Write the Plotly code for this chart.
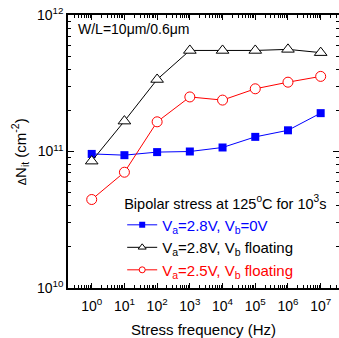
import plotly.graph_objects as go

freq = [1e0, 1e1, 1e2, 1e3, 1e4, 1e5, 1e6, 1e7]
blue_vals = [9.6e10, 9.4e10, 9.9e10, 1.0e11, 1.07e11, 1.28e11, 1.43e11, 1.91e11]
black_vals = [8.5e10, 1.67e11, 3.37e11, 5.5e11, 5.5e11, 5.5e11, 5.6e11, 5.3e11]
red_vals = [4.45e10, 7.05e10, 1.65e11, 2.51e11, 2.38e11, 2.88e11, 3.22e11, 3.55e11]

names = [
    "<span style='color:#0000ff'>V<sub>a</sub>=2.8V, V<sub>b</sub>=0V</span>",
    "<span style='color:#000000'>V<sub>a</sub>=2.8V, V<sub>b</sub> floating</span>",
    "<span style='color:#ff0000'>V<sub>a</sub>=2.5V, V<sub>b</sub> floating</span>",
]
x_tickvals = [1e0, 1e1, 1e2, 1e3, 1e4, 1e5, 1e6, 1e7]
x_ticktext = ["10<sup>%d</sup>" % i for i in range(8)]
y_tickvals = [1e10, 1e11, 1e12]
y_ticktext = ["10<sup>10</sup>", "10<sup>11</sup>", "10<sup>12</sup>"]

font = "Liberation Sans, Arial, sans-serif"

styles = [
    dict(line=dict(color="#0000ff", width=1),
         marker=dict(symbol="square", size=8, color="#0000ff")),
    dict(line=dict(color="#000000", width=1),
         marker=dict(symbol="triangle-up", size=11, color="white",
                     line=dict(color="#000000", width=1))),
    dict(line=dict(color="#ff0000", width=1),
         marker=dict(symbol="circle", size=10, color="white",
                     line=dict(color="#ff0000", width=1))),
]
legend_styles = [
    dict(line=dict(color="#0000ff", width=1),
         marker=dict(symbol="square", size=6, color="#0000ff")),
    dict(line=dict(color="#000000", width=1),
         marker=dict(symbol="triangle-up", size=7, color="white",
                     line=dict(color="#000000", width=1))),
    dict(line=dict(color="#ff0000", width=1),
         marker=dict(symbol="circle", size=6, color="white",
                     line=dict(color="#ff0000", width=1))),
]

fig = go.Figure()
for vals, st in zip([blue_vals, black_vals, red_vals], styles):
    fig.add_trace(go.Scatter(x=freq, y=vals, mode="lines+markers", showlegend=False, **st))
for nm, st in zip(names, legend_styles):
    fig.add_trace(go.Scatter(x=[None], y=[None], mode="lines+markers", name=nm, **st))

fig.update_layout(
    width=339, height=338,
    margin=dict(l=68, r=0, t=15, b=50, autoexpand=False),
    plot_bgcolor="white", paper_bgcolor="white",
    font=dict(family=font, size=14, color="black"),
    legend=dict(
        x=0.2, y=0.36, xanchor="left", yanchor="top",
        bgcolor="rgba(0,0,0,0)",
        title=dict(text="Bipolar stress at 125<sup>o</sup>C for 10<sup>3</sup>s",
                   font=dict(size=14.5)),
        font=dict(size=15),
        tracegroupgap=0,
        itemwidth=30,
    ),
    xaxis=dict(
        type="log", range=[-0.725, 7.56], automargin=False,
        tickvals=x_tickvals, ticktext=x_ticktext,
        ticks="inside", ticklen=5, tickcolor="black",
        ticklabelstandoff=4,
        minor=dict(ticks="inside", ticklen=3, tickcolor="black", dtick="D1"),
        showline=True, linecolor="black", linewidth=1.5, mirror="ticks",
        showgrid=False, zeroline=False,
        tickfont=dict(size=14),
        title=dict(text="Stress frequency (Hz)", font=dict(size=15), standoff=13),
    ),
    yaxis=dict(
        type="log", range=[10, 12], automargin=False,
        tickvals=y_tickvals, ticktext=y_ticktext,
        ticks="inside", ticklen=6, tickcolor="black",
        minor=dict(ticks="inside", ticklen=3, tickcolor="black", dtick="D1"),
        showline=True, linecolor="black", linewidth=1.5, mirror="ticks",
        showgrid=False, zeroline=False,
        tickfont=dict(size=14),
    ),
    annotations=[
        dict(text="W/L=10μm/0.6μm", xref="paper", yref="paper",
             x=0.03, y=0.985, xanchor="left", yanchor="top",
             showarrow=False, font=dict(size=14)),
        dict(text="<span style='font-size:11px'>Δ</span>N<sub>it</sub> (cm<sup>-2</sup>)",
             xref="paper", yref="paper", x=-0.178, y=0.5,
             xanchor="center", yanchor="middle", textangle=-90,
             showarrow=False, font=dict(size=15)),
    ],
)

fig.write_html("out.html", config={"displayModeBar": False},
               post_script="document.body.style.margin='0px';")
